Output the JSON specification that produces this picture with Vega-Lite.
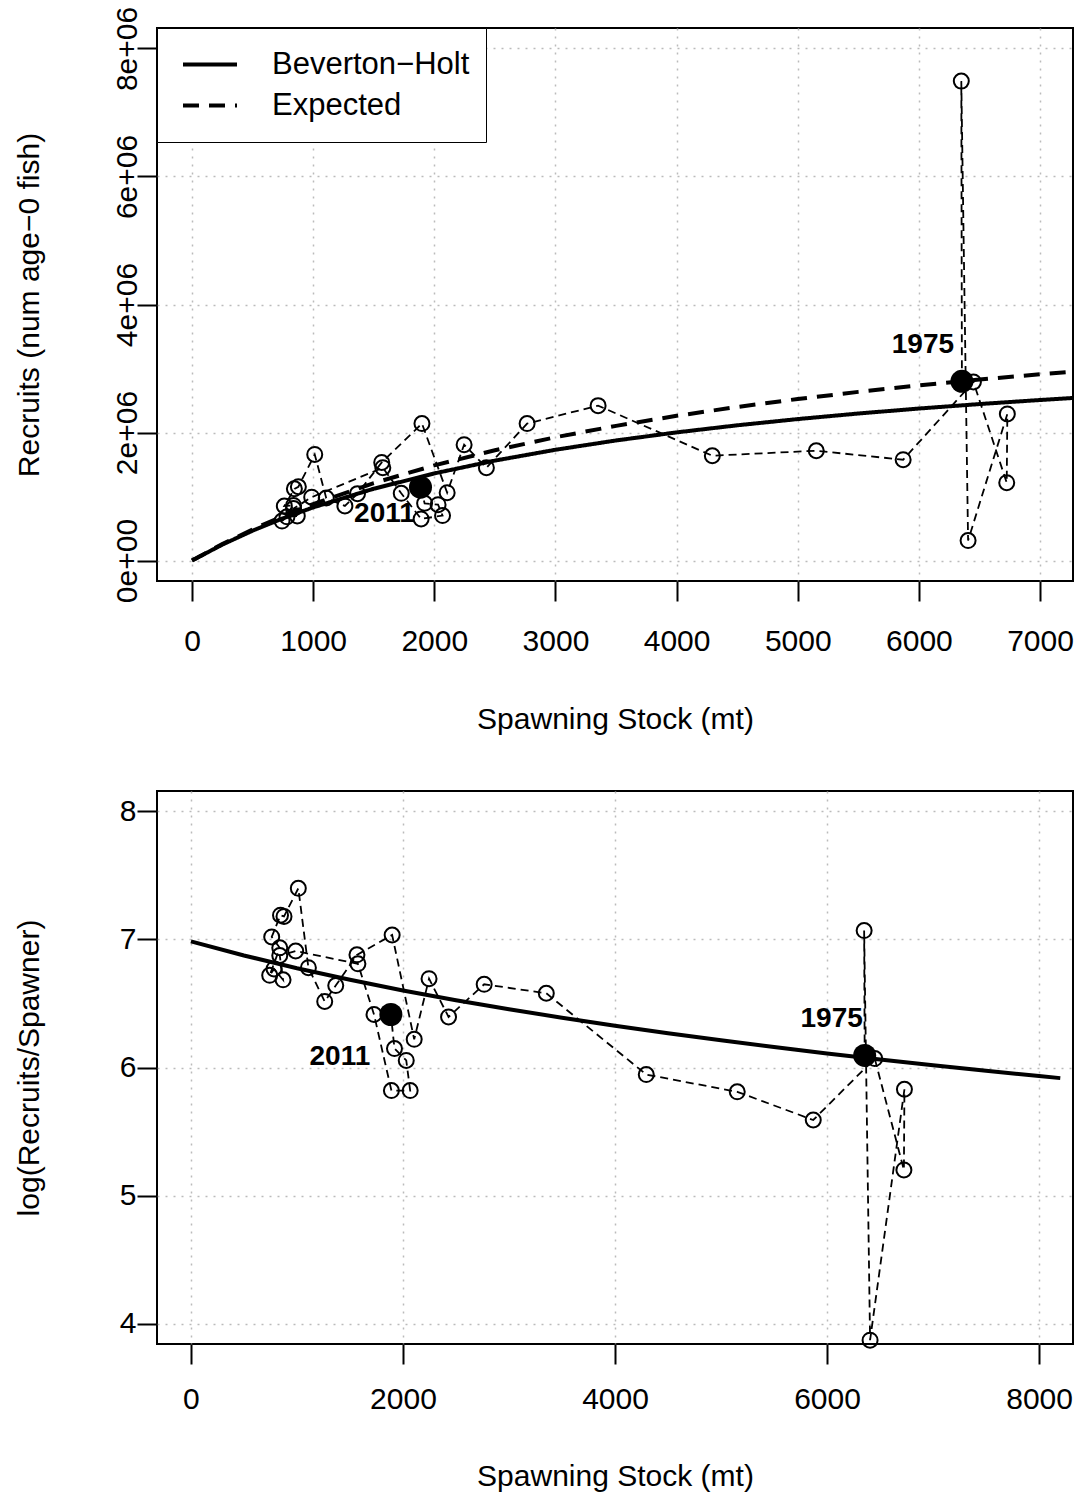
{
  "$schema": "https://vega.github.io/schema/vega-lite/v6.json",
  "background": "white",
  "padding": {"left": 13, "top": 5, "right": 5, "bottom": 5},
  "spacing": 210,
  "bounds": "flush",
  "datasets": {
    "sr": [
      {"yr": 1975, "S": 6355, "R": 2800000, "lrs": 6.094},
      {"yr": 1976, "S": 6350, "R": 7490000, "lrs": 7.07},
      {"yr": 1977, "S": 6406, "R": 312000, "lrs": 3.87},
      {"yr": 1978, "S": 6730, "R": 2290000, "lrs": 5.83},
      {"yr": 1979, "S": 6725, "R": 1216000, "lrs": 5.2},
      {"yr": 1980, "S": 6450, "R": 2790000, "lrs": 6.07},
      {"yr": 1981, "S": 5870, "R": 1575000, "lrs": 5.59},
      {"yr": 1982, "S": 5153, "R": 1715000, "lrs": 5.81},
      {"yr": 1983, "S": 4295, "R": 1637000, "lrs": 5.945},
      {"yr": 1984, "S": 3352, "R": 2420000, "lrs": 6.58},
      {"yr": 1985, "S": 2766, "R": 2140000, "lrs": 6.65},
      {"yr": 1986, "S": 2430, "R": 1450000, "lrs": 6.395},
      {"yr": 1987, "S": 2246, "R": 1810000, "lrs": 6.694},
      {"yr": 1988, "S": 2106, "R": 1060000, "lrs": 6.22},
      {"yr": 1989, "S": 1898, "R": 2140000, "lrs": 7.035},
      {"yr": 1990, "S": 1566, "R": 1533000, "lrs": 6.88},
      {"yr": 1991, "S": 1366, "R": 1045000, "lrs": 6.64},
      {"yr": 1992, "S": 1262, "R": 853000, "lrs": 6.516},
      {"yr": 1993, "S": 1108, "R": 975000, "lrs": 6.78},
      {"yr": 1994, "S": 1013, "R": 1657000, "lrs": 7.4},
      {"yr": 1995, "S": 878, "R": 1153000, "lrs": 7.18},
      {"yr": 1996, "S": 845, "R": 1120000, "lrs": 7.19},
      {"yr": 1997, "S": 762, "R": 852000, "lrs": 7.02},
      {"yr": 1998, "S": 838, "R": 861000, "lrs": 6.935},
      {"yr": 1999, "S": 743, "R": 616000, "lrs": 6.72},
      {"yr": 2000, "S": 784, "R": 683000, "lrs": 6.77},
      {"yr": 2001, "S": 869, "R": 696000, "lrs": 6.685},
      {"yr": 2002, "S": 838, "R": 811000, "lrs": 6.875},
      {"yr": 2003, "S": 988, "R": 990000, "lrs": 6.91},
      {"yr": 2004, "S": 1575, "R": 1450000, "lrs": 6.81},
      {"yr": 2005, "S": 1727, "R": 1050000, "lrs": 6.414},
      {"yr": 2006, "S": 1891, "R": 650000, "lrs": 5.82},
      {"yr": 2007, "S": 2068, "R": 702000, "lrs": 5.82},
      {"yr": 2008, "S": 2031, "R": 873000, "lrs": 6.055},
      {"yr": 2009, "S": 1920, "R": 894000, "lrs": 6.148},
      {"yr": 2011, "S": 1886, "R": 1146000, "lrs": 6.414}
    ],
    "bh": [
      {"curve": "Beverton−Holt", "S": 0, "R": 0},
      {"curve": "Beverton−Holt", "S": 250, "R": 248300},
      {"curve": "Beverton−Holt", "S": 500, "R": 466000},
      {"curve": "Beverton−Holt", "S": 750, "R": 658500},
      {"curve": "Beverton−Holt", "S": 1000, "R": 829800},
      {"curve": "Beverton−Holt", "S": 1500, "R": 1121700},
      {"curve": "Beverton−Holt", "S": 2000, "R": 1361100},
      {"curve": "Beverton−Holt", "S": 2500, "R": 1561000},
      {"curve": "Beverton−Holt", "S": 3000, "R": 1730300},
      {"curve": "Beverton−Holt", "S": 3500, "R": 1875700},
      {"curve": "Beverton−Holt", "S": 4000, "R": 2001900},
      {"curve": "Beverton−Holt", "S": 4500, "R": 2112400},
      {"curve": "Beverton−Holt", "S": 5000, "R": 2210000},
      {"curve": "Beverton−Holt", "S": 5500, "R": 2296800},
      {"curve": "Beverton−Holt", "S": 6000, "R": 2374500},
      {"curve": "Beverton−Holt", "S": 6500, "R": 2444500},
      {"curve": "Beverton−Holt", "S": 7000, "R": 2507900},
      {"curve": "Beverton−Holt", "S": 7300, "R": 2543100},
      {"curve": "Expected", "S": 0, "R": 0},
      {"curve": "Expected", "S": 250, "R": 256500},
      {"curve": "Expected", "S": 500, "R": 486500},
      {"curve": "Expected", "S": 750, "R": 694000},
      {"curve": "Expected", "S": 1000, "R": 882100},
      {"curve": "Expected", "S": 1500, "R": 1210000},
      {"curve": "Expected", "S": 2000, "R": 1486300},
      {"curve": "Expected", "S": 2500, "R": 1722200},
      {"curve": "Expected", "S": 3000, "R": 1926000},
      {"curve": "Expected", "S": 3500, "R": 2103900},
      {"curve": "Expected", "S": 4000, "R": 2260400},
      {"curve": "Expected", "S": 4500, "R": 2399300},
      {"curve": "Expected", "S": 5000, "R": 2523300},
      {"curve": "Expected", "S": 5500, "R": 2634700},
      {"curve": "Expected", "S": 6000, "R": 2735300},
      {"curve": "Expected", "S": 6500, "R": 2826700},
      {"curve": "Expected", "S": 7000, "R": 2910000},
      {"curve": "Expected", "S": 7300, "R": 2956500}
    ],
    "lc": [
      {"S": 0, "lrs": 6.985},
      {"S": 500, "lrs": 6.875},
      {"S": 1000, "lrs": 6.775},
      {"S": 1500, "lrs": 6.685},
      {"S": 2000, "lrs": 6.602},
      {"S": 2500, "lrs": 6.526},
      {"S": 3000, "lrs": 6.455},
      {"S": 3500, "lrs": 6.389},
      {"S": 4000, "lrs": 6.326},
      {"S": 4500, "lrs": 6.268},
      {"S": 5000, "lrs": 6.213},
      {"S": 5500, "lrs": 6.16},
      {"S": 6000, "lrs": 6.11},
      {"S": 6500, "lrs": 6.063},
      {"S": 7000, "lrs": 6.018},
      {"S": 7500, "lrs": 5.974},
      {"S": 8000, "lrs": 5.933},
      {"S": 8200, "lrs": 5.917}
    ]
  },
  "vconcat": [
    {
      "width": 916,
      "height": 553,
      "encoding": {
        "x": {"field": "S", "type": "quantitative", "scale": {"domain": [-289, 7272], "nice": false, "zero": false},
              "axis": {"values": [0, 1000, 2000, 3000, 4000, 5000, 6000, 7000], "format": "d", "title": "Spawning Stock (mt)", "titleY": 147}},
        "y": {"field": "R", "type": "quantitative", "scale": {"domain": [-320000, 8320000], "nice": false, "zero": false},
              "axis": {"values": [0, 2000000, 4000000, 6000000, 8000000], "labelExpr": "replace(format(datum.value, '.0e'), 'e+', 'e+0')",
                       "labelAngle": 270, "labelAlign": "center", "labelBaseline": "alphabetic",
                       "title": "Recruits (num age−0 fish)"}}
      },
      "layer": [
        {
          "data": {"name": "bh"},
          "mark": {"type": "line", "strokeWidth": 4, "color": "black", "clip": true},
          "encoding": {
            "strokeDash": {"field": "curve", "type": "nominal",
              "scale": {"domain": ["Beverton−Holt", "Expected"], "range": [[1, 0], [16, 10]]},
              "legend": {"title": null, "orient": "top-left", "offset": 0, "padding": 16, "fillColor": "white", "strokeColor": "black",
                         "symbolType": "stroke", "symbolSize": 2916, "symbolStrokeWidth": 4, "symbolStrokeColor": "black", "symbolOffset": 8,
                         "clipHeight": 41, "rowPadding": 0,
                         "labelFontSize": 31, "labelOffset": 33, "labelColor": "black", "labelLimit": 500}}
          }
        },
        {
          "data": {"name": "sr"},
          "mark": {"type": "line", "strokeDash": [8, 5], "strokeWidth": 1.8, "color": "black"},
          "encoding": {"order": {"field": "yr", "type": "quantitative"}}
        },
        {
          "data": {"name": "sr"},
          "mark": {"type": "point", "shape": "circle", "filled": false, "size": 225, "strokeWidth": 2, "color": "black", "opacity": 1}
        },
        {
          "data": {"name": "sr"},
          "transform": [{"filter": "datum.yr == 1975 || datum.yr == 2011"}],
          "mark": {"type": "point", "shape": "circle", "filled": true, "size": 530, "color": "black", "opacity": 1}
        },
        {
          "data": {"name": "sr"},
          "transform": [{"filter": "datum.yr == 1975"}],
          "mark": {"type": "text", "fontSize": 28, "fontWeight": "bold", "color": "black", "dx": -39, "dy": -36, "align": "center", "baseline": "middle"},
          "encoding": {"text": {"field": "yr", "type": "nominal"}}
        },
        {
          "data": {"name": "sr"},
          "transform": [{"filter": "datum.yr == 2011"}],
          "mark": {"type": "text", "fontSize": 28, "fontWeight": "bold", "color": "black", "dx": -36, "dy": 27, "align": "center", "baseline": "middle"},
          "encoding": {"text": {"field": "yr", "type": "nominal"}}
        }
      ]
    },
    {
      "width": 916,
      "height": 553,
      "encoding": {
        "x": {"field": "S", "type": "quantitative", "scale": {"domain": [-320, 8320], "nice": false, "zero": false},
              "axis": {"values": [0, 2000, 4000, 6000, 8000], "format": "d", "labelPadding": 20, "title": "Spawning Stock (mt)", "titleY": 141}},
        "y": {"field": "lrs", "type": "quantitative", "scale": {"domain": [3.84, 8.16], "nice": false, "zero": false},
              "axis": {"values": [4, 5, 6, 7, 8], "labelAngle": 0, "labelAlign": "right", "labelBaseline": "middle",
                       "title": "log(Recruits/Spawner)"}}
      },
      "layer": [
        {
          "data": {"name": "lc"},
          "mark": {"type": "line", "strokeWidth": 4, "color": "black", "clip": true},
          "encoding": {}
        },
        {
          "data": {"name": "sr"},
          "mark": {"type": "line", "strokeDash": [8, 5], "strokeWidth": 1.8, "color": "black"},
          "encoding": {"order": {"field": "yr", "type": "quantitative"}}
        },
        {
          "data": {"name": "sr"},
          "mark": {"type": "point", "shape": "circle", "filled": false, "size": 225, "strokeWidth": 2, "color": "black", "opacity": 1}
        },
        {
          "data": {"name": "sr"},
          "transform": [{"filter": "datum.yr == 1975 || datum.yr == 2011"}],
          "mark": {"type": "point", "shape": "circle", "filled": true, "size": 530, "color": "black", "opacity": 1}
        },
        {
          "data": {"name": "sr"},
          "transform": [{"filter": "datum.yr == 1975"}],
          "mark": {"type": "text", "fontSize": 28, "fontWeight": "bold", "color": "black", "dx": -33, "dy": -36, "align": "center", "baseline": "middle"},
          "encoding": {"text": {"field": "yr", "type": "nominal"}}
        },
        {
          "data": {"name": "sr"},
          "transform": [{"filter": "datum.yr == 2011"}],
          "mark": {"type": "text", "fontSize": 28, "fontWeight": "bold", "color": "black", "dx": -51, "dy": 42, "align": "center", "baseline": "middle"},
          "encoding": {"text": {"field": "yr", "type": "nominal"}}
        }
      ]
    }
  ],
  "resolve": {"scale": {"x": "independent", "y": "independent", "strokeDash": "independent"}},
  "config": {
    "font": "Liberation Sans",
    "view": {"stroke": "black", "strokeWidth": 2},
    "axis": {
      "domain": false, "tickColor": "black", "tickWidth": 2, "tickSize": 20,
      "labelFontSize": 30, "labelColor": "black", "labelFlush": false, "labelOverlap": false,
      "titleFontSize": 30, "titleFontWeight": "normal", "titleColor": "black",
      "gridColor": "#bbbbbb", "gridDash": [2, 6], "gridWidth": 1.5
    },
    "axisX": {"labelPadding": 25, "titleBaseline": "alphabetic", "titleX": 458},
    "axisY": {"labelPadding": 1, "titleBaseline": "alphabetic", "titleX": -119, "titleY": 276.5, "titleAngle": 270}
  }
}
